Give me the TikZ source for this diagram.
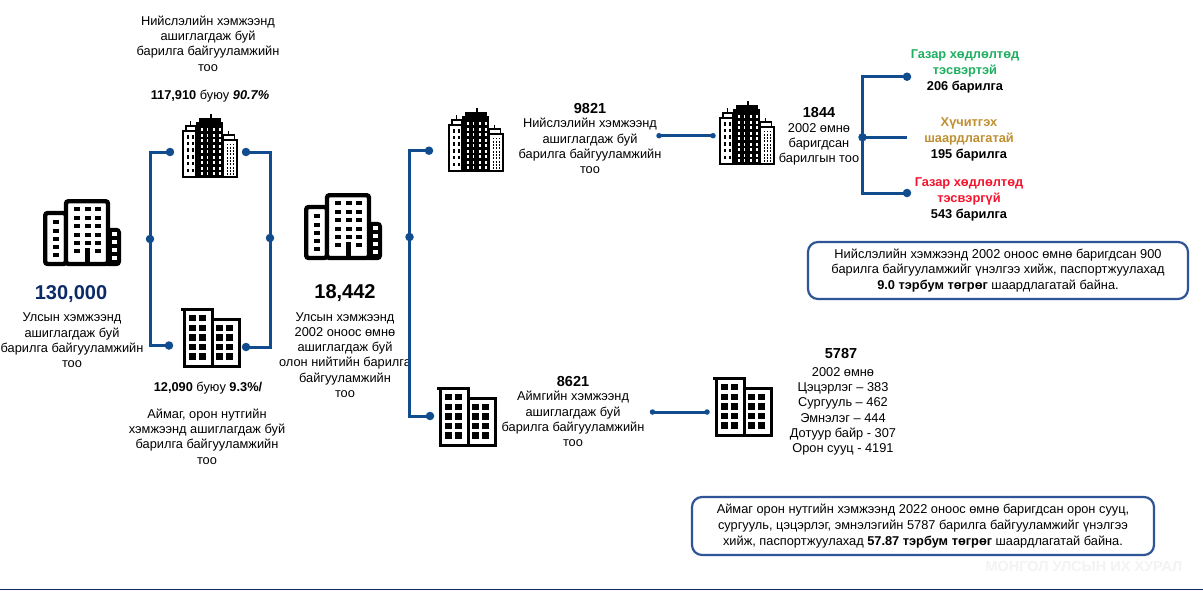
\documentclass[tikz,border=0pt]{standalone}
\usepackage{fontspec}
\setmainfont{Liberation Sans}
\definecolor{linkblue}{HTML}{104C8E}
\definecolor{boxblue}{HTML}{2F5597}
\definecolor{navynum}{HTML}{0B2A66}
\definecolor{okgreen}{HTML}{1FAF60}
\definecolor{gold}{HTML}{BF9030}
\definecolor{alarm}{HTML}{F5142D}
\definecolor{mark}{HTML}{F3F3F3}
\tikzset{
  x=1pt,y=-1pt,
  txt/.style={inner sep=0pt,align=center,text=black,font=\fontsize{12.8}{15.3}\selectfont},
  bignum/.style={inner sep=0pt,font=\fontsize{20}{24}\selectfont\bfseries},
  midnum/.style={inner sep=0pt,font=\fontsize{14.5}{17}\selectfont\bfseries},
  dot/.style={circle,fill=linkblue,inner sep=0pt,minimum size=8.5pt},
  tinydot/.style={circle,fill=linkblue,inner sep=0pt,minimum size=5.5pt},
  link/.style={draw=linkblue,line width=3pt},
  note/.style={draw=boxblue,line width=2.2pt,rounded corners=10pt,fill=white},
  icona/.pic={
    \draw[line width=4.4pt,rounded corners=2.5pt,fill=white] (2.2,14) rectangle (23,65);
    \draw[line width=4.4pt,rounded corners=2.5pt,fill=black] (63,31) rectangle (75.8,65);
    \draw[line width=4.4pt,rounded corners=2.5pt,fill=white] (23,2.2) rectangle (65,65);
    \foreach \yy in {8,17,25,34,42,50} {
      \fill (31,\yy) rectangle +(6,4);
      \fill (52,\yy) rectangle +(6,4);
    }
    \foreach \yy in {8,17,25,34,42} \fill (42,\yy) rectangle +(6,4);
    \fill (42,49) rectangle (47,65);
    \foreach \yy in {21,29.5,38,46,54} \fill (10,\yy) rectangle +(6,4);
    \foreach \yy in {33,41,49,57} \fill[white] (68.5,\yy) rectangle +(5,4);
  },
  iconb/.pic={
    \fill (28.4,0) rectangle (29.8,4);
    \fill (17,3.5) rectangle (39,9);
    \draw[line width=1pt] (8,7) -- (8,12);
    \draw[line width=1pt] (46,17) -- (46,21);
    \draw[line width=1.7pt,fill=white] (4,12) rectangle (14,17);
    \draw[line width=1.7pt,fill=white] (41,21) rectangle (52.5,26);
    \draw[line width=1.7pt,fill=white] (0.9,17) rectangle (14,63.1);
    \draw[line width=1.7pt,fill=white] (41,26) rectangle (55.1,63.1);
    \fill (14,7.5) rectangle (41,64);
    \foreach \xx in {19,24.5,31,37} \foreach \nn in {0,...,8}
      \fill[white] (\xx,14+\nn*5.5) rectangle +(1.8,3);
    \foreach \xx in {5,10} \foreach \nn in {0,...,5}
      \fill (\xx,21+\nn*6.7) rectangle +(1.6,3.6);
    \foreach \xx in {44.5,48,51} \foreach \nn in {0,...,9}
      \fill (\xx,29.5+\nn*3.3) rectangle +(1.4,1.9);
  },
  iconc/.pic={
    \draw[line width=3pt,fill=white] (3,1.5) rectangle (31,58);
    \draw[line width=3pt,fill=white] (31,11.5) rectangle (58,58);
    \draw[line width=3pt] (0,1.5) -- (32,1.5);
    \draw[line width=3pt] (31,11.5) -- (60,11.5);
    \foreach \yy in {6.5,16.5,26,35.5,45} {
      \fill (8,\yy) rectangle +(7,6.5);
      \fill (18,\yy) rectangle +(7,6.5);
    }
    \foreach \yy in {16.5,26,35.5,45} {
      \fill (35,\yy) rectangle +(6.5,6.5);
      \fill (45,\yy) rectangle +(6.5,6.5);
    }
  },
}
\begin{document}
\begin{tikzpicture}
\useasboundingbox (0,0) rectangle (1203,590);
\fill[white] (0,0) rectangle (1203,590);
% footer
\coordinate (footL) at (0,589.3);
\coordinate (footR) at (1203,589.3);
\draw[draw=navynum,line width=1.2pt] (footL) -- (footR);
\node[inner sep=0pt,text=mark,font=\fontsize{14.5}{16}\selectfont\bfseries] (watermark) at (1084,566.5) {МОНГОЛ УЛСЫН ИХ ХУРАЛ};

% icons
\pic (ia1) at (43,199) {icona};
\pic (ia2) at (304,193) {icona};
\pic (ib1) at (182,114) {iconb};
\pic (ib2) at (448,108) {iconb};
\pic (ib3) at (719,101) {iconb};
\pic (ic1) at (181,308) {iconc};
\pic (ic2) at (437,387) {iconc};
\pic (ic3) at (713,377) {iconc};

% texts
\node[txt] (t1) at (208,43.5) {Нийслэлийн хэмжээнд\\ашиглагдаж буй\\барилга байгууламжийн\\тоо};
\node[txt] (t1b) at (210,96.5) {\textbf{117,910} буюу \textbf{\textit{90.7\%}}};
\node[bignum,text=navynum] (n130) at (71,294) {130,000};
\node[txt] (t130) at (72,340.5) {Улсын хэмжээнд\\ашиглагдаж буй\\барилга байгууламжийн\\тоо};
\node[bignum] (n18) at (345,293) {18,442};
\node[txt] (t18) at (345,355) {Улсын хэмжээнд\\2002 оноос өмнө\\ашиглагдаж буй\\олон нийтийн барилга\\байгууламжийн\\тоо};
\node[txt] (t2b) at (208,388.5) {\textbf{12,090} буюу \textbf{9.3\%/}};
\node[txt] (t2) at (207,436.5) {Аймаг, орон нутгийн\\хэмжээнд ашиглагдаж буй\\барилга байгууламжийн\\тоо};
\node[midnum] (n9821) at (590,108.5) {9821};
\node[txt] (t9821) at (590,146) {Нийслэлийн хэмжээнд\\ашиглагдаж буй\\барилга байгууламжийн\\тоо};
\node[midnum] (n1844) at (819,112.5) {1844};
\node[txt] (t1844) at (819,144.5) {2002 өмнө\\баригдсан\\барилгын тоо};
\node[txt,font=\fontsize{12.8}{15.7}\selectfont\bfseries] (gA) at (965,71.5) {\textcolor{okgreen}{Газар хөдлөлтөд}\\\textcolor{okgreen}{тэсвэртэй}\\206 барилга};
\node[txt,font=\fontsize{12.8}{16}\selectfont\bfseries] (gB) at (969,139) {\textcolor{gold}{Хүчитгэх}\\\textcolor{gold}{шаардлагатай}\\195 барилга};
\node[txt,font=\fontsize{12.8}{15.7}\selectfont\bfseries] (gC) at (969,199.5) {\textcolor{alarm}{Газар хөдлөлтөд}\\\textcolor{alarm}{тэсвэргүй}\\543 барилга};
\node[midnum] (n8621) at (573,381.5) {8621};
\node[txt] (t8621) at (573,419) {Аймгийн хэмжээнд\\ашиглагдаж буй\\барилга байгууламжийн\\тоо};
\node[midnum] (n5787) at (841,354) {5787};
\node[txt] (t5787) at (843,411.5) {2002 өмнө\\Цэцэрлэг – 383\\Сургууль – 462\\Эмнэлэг – 444\\Дотуур байр - 307\\Орон сууц - 4191};
\node[note,minimum width=380pt,minimum height=57pt,inner sep=0pt,align=center,font=\fontsize{12.8}{15.5}\selectfont] (box1) at (998,270.5) {Нийслэлийн хэмжээнд 2002 оноос өмнө баригдсан 900\\барилга байгууламжийг үнэлгээ хийж, паспортжуулахад\\\textbf{9.0 тэрбум төгрөг} шаардлагатай байна.};
\node[note,minimum width=462pt,minimum height=58pt,inner sep=0pt,align=center,font=\fontsize{12.8}{15.8}\selectfont] (box2) at (923,526) {Аймаг орон нутгийн хэмжээнд 2022 оноос өмнө баригдсан орон сууц,\\сургууль, цэцэрлэг, эмнэлэгийн 5787 барилга байгууламжийг үнэлгээ\\хийж, паспортжуулахад \textbf{57.87 тэрбум төгрөг} шаардлагатай байна.};

% junction dots and connector ends
\node[dot] (a1) at (170,152) {};
\node[dot] (a2) at (150,239) {};
\node[dot] (a3) at (169,345.5) {};
\node[dot] (b1) at (246,152) {};
\node[dot] (b2) at (270,238) {};
\node[dot] (b3) at (246,347) {};
\node[dot] (c1) at (429,150.7) {};
\node[dot] (c2) at (409.5,237) {};
\node[dot] (c3) at (430,416) {};
\node[tinydot] (e1) at (659,135.7) {};
\node[tinydot] (e2) at (713,135.7) {};
\node[tinydot] (f1) at (652.5,412) {};
\node[tinydot] (f2) at (707,412) {};
\node[dot] (g1) at (907,76.7) {};
\node[dot] (g2) at (862.5,137.3) {};
\node[dot] (g3) at (907,193) {};
\coordinate (g2end) at (907,137.3);

% connectors
\draw[link] (a1.center) -| (a2.center) |- (a3.center);
\draw[link] (b1.center) -| (b2.center) |- (b3.center);
\draw[link] (c1.center) -| (c2.center) |- (c3.center);
\draw[link] (e1.center) -- (e2.center);
\draw[link] (f1.center) -- (f2.center);
\draw[link] (g1.center) -| (g2.center) |- (g3.center);
\draw[link] (g2.center) -- (g2end);
\end{tikzpicture}
\end{document}
